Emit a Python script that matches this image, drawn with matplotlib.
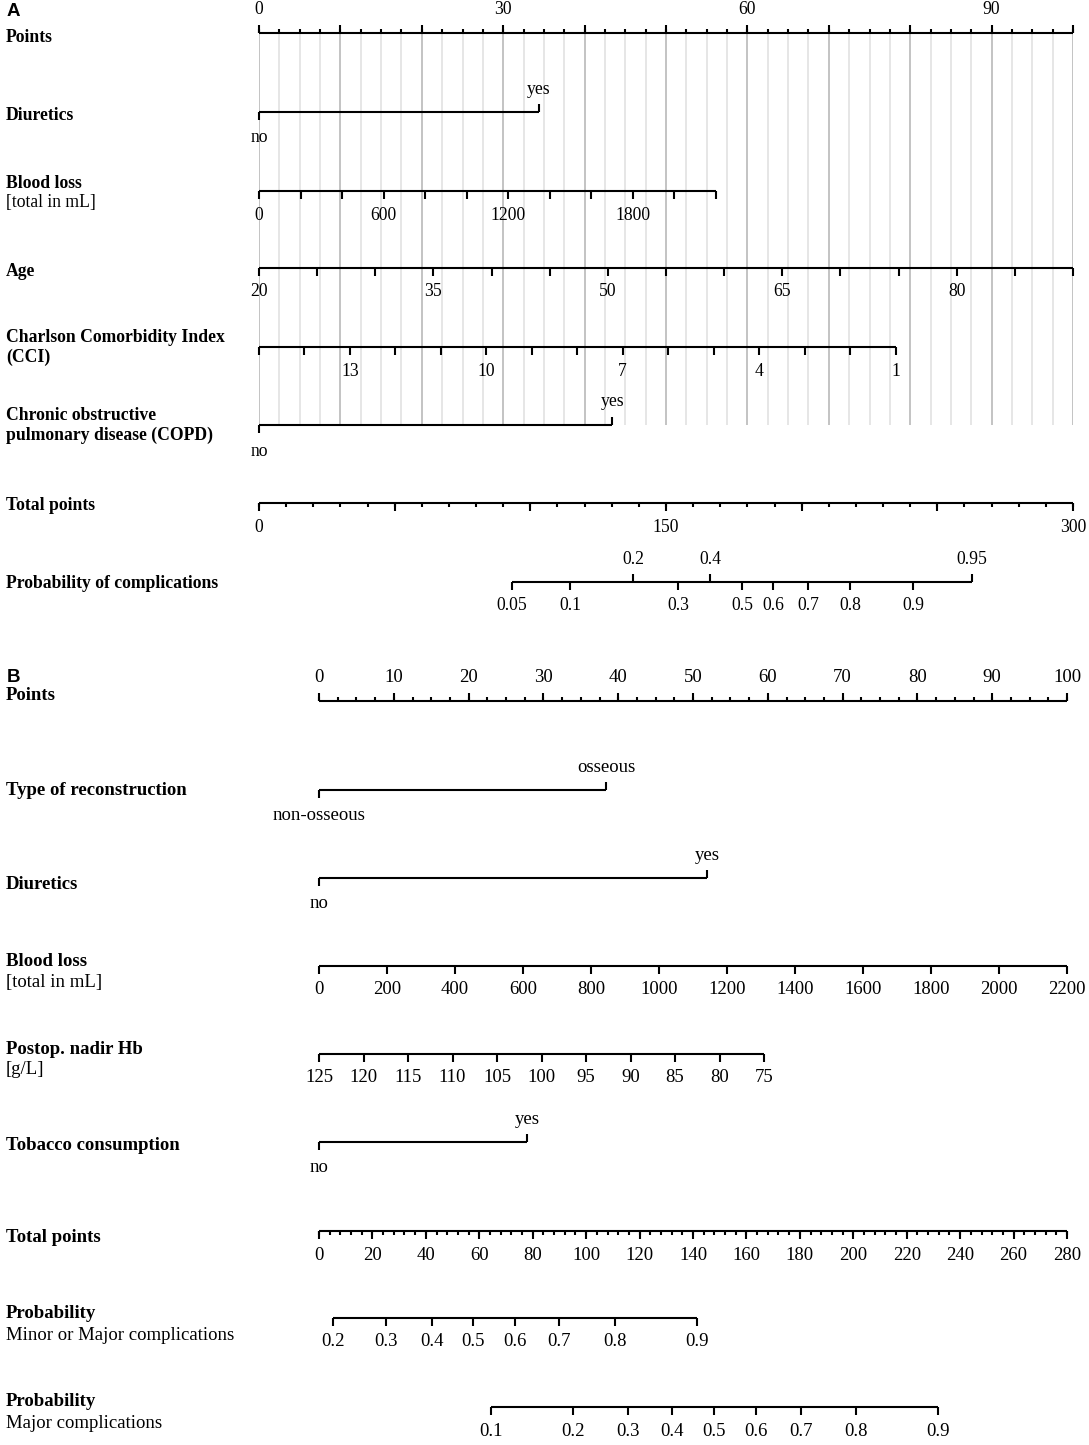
import numpy as np
import matplotlib.pyplot as plt

plt.rcParams['font.family'] = ['Liberation Serif', 'DejaVu Serif']
plt.rcParams['font.size'] = 12.7

W, H = 1089, 1445

# ---------------- Panel A data ----------------
a_points_labels = [0, 30, 60, 90]
a_diur_pts = [0, 34.4]                 # no, yes
a_blood_range = [0, 2200]
a_blood_pts = [0, 56.1]
a_blood_ticks = list(range(0, 2201, 200))
a_blood_labels = [0, 600, 1200, 1800]
a_age_range = [20, 90]
a_age_pts = [0, 100]
a_age_ticks = list(range(20, 91, 5))
a_age_labels = [20, 35, 50, 65, 80]
a_cci_range = [15, 1]
a_cci_pts = [0, 78.2]
a_cci_ticks = list(range(15, 0, -1))
a_cci_labels = [13, 10, 7, 4, 1]
a_copd_pts = [0, 43.4]                 # no, yes
a_total_max = 300
a_total_labels = [0, 150, 300]
a_prob_vals = ['0.05', '0.1', '0.2', '0.3', '0.4', '0.5', '0.6', '0.7', '0.8', '0.9', '0.95']
a_prob_tp = [93.2, 114.6, 137.8, 154.4, 166.2, 178.0, 189.5, 202.4, 217.8, 241.1, 262.8]
a_prob_above = ['0.2', '0.4', '0.95']

# ---------------- Panel B data ----------------
b_points_labels = list(range(0, 101, 10))
b_recon_pts = [0, 38.4]                # non-osseous, osseous
b_diur_pts = [0, 51.9]                 # no, yes
b_blood_range = [0, 2200]
b_blood_pts = [0, 100]
b_blood_ticks = list(range(0, 2201, 200))
b_hb_range = [125, 75]
b_hb_pts = [0, 59.5]
b_hb_ticks = list(range(125, 74, -5))
b_tob_pts = [0, 27.8]                  # no, yes
b_total_max = 280
b_total_labels = list(range(0, 281, 20))
b_minor_vals = ['0.2', '0.3', '0.4', '0.5', '0.6', '0.7', '0.8', '0.9']
b_minor_tp = [5.2, 25.1, 42.3, 57.7, 73.4, 89.9, 110.8, 141.5]
b_major_vals = ['0.1', '0.2', '0.3', '0.4', '0.5', '0.6', '0.7', '0.8', '0.9']
b_major_tp = [64.4, 95.1, 115.7, 132.2, 147.9, 163.6, 180.5, 201.0, 231.7]

LW = 1.5
TL = 8      # tick length (px)
OFF = 24    # label offset from line (px)
FS = 12.7   # current panel font size


def lin(v, rng, pts):
    if rng[0] < rng[1]:
        return np.interp(v, rng, pts)
    return np.interp(-np.asarray(v, float), [-rng[0], -rng[1]], pts)


def txt(ax, x, y, s):
    ax.text(x, y, str(s), ha='center', va='center', fontsize=FS)


def hline(ax, x0, x1, y):
    ax.plot([x0, x1], [y, y], color='k', lw=LW, solid_capstyle='butt', clip_on=False)


def ticks(ax, xs, y, length, up=False):
    y2 = y - length if up else y + length
    ax.vlines(xs, y, y2, color='k', lw=LW, clip_on=False)


def scale_row(ax, y, xs, labx, labs):
    hline(ax, min(xs), max(xs), y)
    ticks(ax, xs, y, TL)
    for x, s in zip(labx, labs):
        txt(ax, x, y + OFF, s)


def binary_row(ax, y, pts, lo, hi):
    hline(ax, pts[0], pts[1], y)
    ticks(ax, [pts[0]], y, TL)
    ticks(ax, [pts[1]], y, TL, up=True)
    txt(ax, pts[0], y + OFF + 2, lo)
    txt(ax, pts[1], y - OFF + 1, hi)


def points_row(ax, y, minor, major, labs):
    hline(ax, 0, 100, y)
    ticks(ax, np.arange(0, 100.01, minor), y, 4, up=True)
    ticks(ax, np.arange(0, 100.01, major), y, TL, up=True)
    for v in labs:
        txt(ax, v, y - OFF + 1, v)


def total_row(ax, y, tmax, minor, major, labs):
    k = 100.0 / tmax
    hline(ax, 0, 100, y)
    ticks(ax, np.arange(0, tmax + 0.01, minor) * k, y, 4)
    ticks(ax, np.arange(0, tmax + 0.01, major) * k, y, TL)
    for v in labs:
        txt(ax, v * k, y + OFF, v)


def prob_row(ax, y, tmax, vals, tps, above=()):
    k = 100.0 / tmax
    xs = np.array(tps) * k
    hline(ax, xs.min(), xs.max(), y)
    for s, x in zip(vals, xs):
        if s in above:
            ticks(ax, [x], y, TL, up=True)
            txt(ax, x, y - OFF + 1, s)
        else:
            ticks(ax, [x], y, TL)
            txt(ax, x, y + OFF, s)


def label(y, s, bold=True):
    fig.text(6 / W, 1 - y / H, s, ha='left', va='center', fontsize=FS,
             fontweight='bold' if bold else 'normal')


fig = plt.figure(figsize=(W / 100, H / 100), dpi=100)

# ---------------- Panel A ----------------
FS = 12.7
axA = fig.add_axes([259 / W, 0, (1073 - 259) / W, 1])
axA.set_xlim(0, 100)
axA.set_ylim(H, 0)
axA.axis('off')

# grid
axA.vlines(np.arange(0, 100.01, 2.5), 33, 425, color='#e6e6e6', lw=1.4, zorder=0)
axA.vlines(np.arange(0, 100.01, 10), 33, 425, color='#c4c4c4', lw=1.4, zorder=0)

points_row(axA, 33, 2.5, 10, a_points_labels)
binary_row(axA, 112, a_diur_pts, 'no', 'yes')
scale_row(axA, 191, lin(a_blood_ticks, a_blood_range, a_blood_pts),
          lin(a_blood_labels, a_blood_range, a_blood_pts), a_blood_labels)
scale_row(axA, 268, lin(a_age_ticks, a_age_range, a_age_pts),
          lin(a_age_labels, a_age_range, a_age_pts), a_age_labels)
scale_row(axA, 347, lin(a_cci_ticks, a_cci_range, a_cci_pts),
          lin(a_cci_labels, a_cci_range, a_cci_pts), a_cci_labels)
binary_row(axA, 425, a_copd_pts, 'no', 'yes')
total_row(axA, 503, a_total_max, 10, 50, a_total_labels)
prob_row(axA, 582, a_total_max, a_prob_vals, a_prob_tp, a_prob_above)

fig.text(7 / W, 1 - 11 / H, 'A', ha='left', va='center', fontweight='bold',
         family=['Liberation Sans', 'DejaVu Sans'], fontsize=13.5)
label(38, 'Points')
label(115, 'Diuretics')
label(183, 'Blood loss')
label(202, '[total in mL]', bold=False)
label(271, 'Age')
label(337, 'Charlson Comorbidity Index')
label(357, '(CCI)')
label(415, 'Chronic obstructive')
label(435, 'pulmonary disease (COPD)')
label(506, 'Total points')
label(584, 'Probability of complications')

# ---------------- Panel B ----------------
FS = 13.5
axB = fig.add_axes([319 / W, 0, (1067 - 319) / W, 1])
axB.set_xlim(0, 100)
axB.set_ylim(H, 0)
axB.axis('off')

points_row(axB, 701, 2.5, 10, b_points_labels)
binary_row(axB, 790, b_recon_pts, 'non-osseous', 'osseous')
binary_row(axB, 878, b_diur_pts, 'no', 'yes')
scale_row(axB, 966, lin(b_blood_ticks, b_blood_range, b_blood_pts),
          lin(b_blood_ticks, b_blood_range, b_blood_pts), b_blood_ticks)
scale_row(axB, 1054, lin(b_hb_ticks, b_hb_range, b_hb_pts),
          lin(b_hb_ticks, b_hb_range, b_hb_pts), b_hb_ticks)
binary_row(axB, 1142, b_tob_pts, 'no', 'yes')
total_row(axB, 1231, b_total_max, 4, 20, b_total_labels)
prob_row(axB, 1318, b_total_max, b_minor_vals, b_minor_tp)
prob_row(axB, 1407, b_total_max, b_major_vals, b_major_tp)

fig.text(7 / W, 1 - 677 / H, 'B', ha='left', va='center', fontweight='bold',
         family=['Liberation Sans', 'DejaVu Sans'], fontsize=13.5)
label(695, 'Points')
label(791, 'Type of reconstruction')
label(885, 'Diuretics')
label(961, 'Blood loss')
label(982, '[total in mL]', bold=False)
label(1049, 'Postop. nadir Hb')
label(1070, '[g/L]', bold=False)
label(1146, 'Tobacco consumption')
label(1237, 'Total points')
label(1314, 'Probability')
label(1336, 'Minor or Major complications', bold=False)
label(1402, 'Probability')
label(1423, 'Major complications', bold=False)

fig.savefig('out.png', dpi=100)
